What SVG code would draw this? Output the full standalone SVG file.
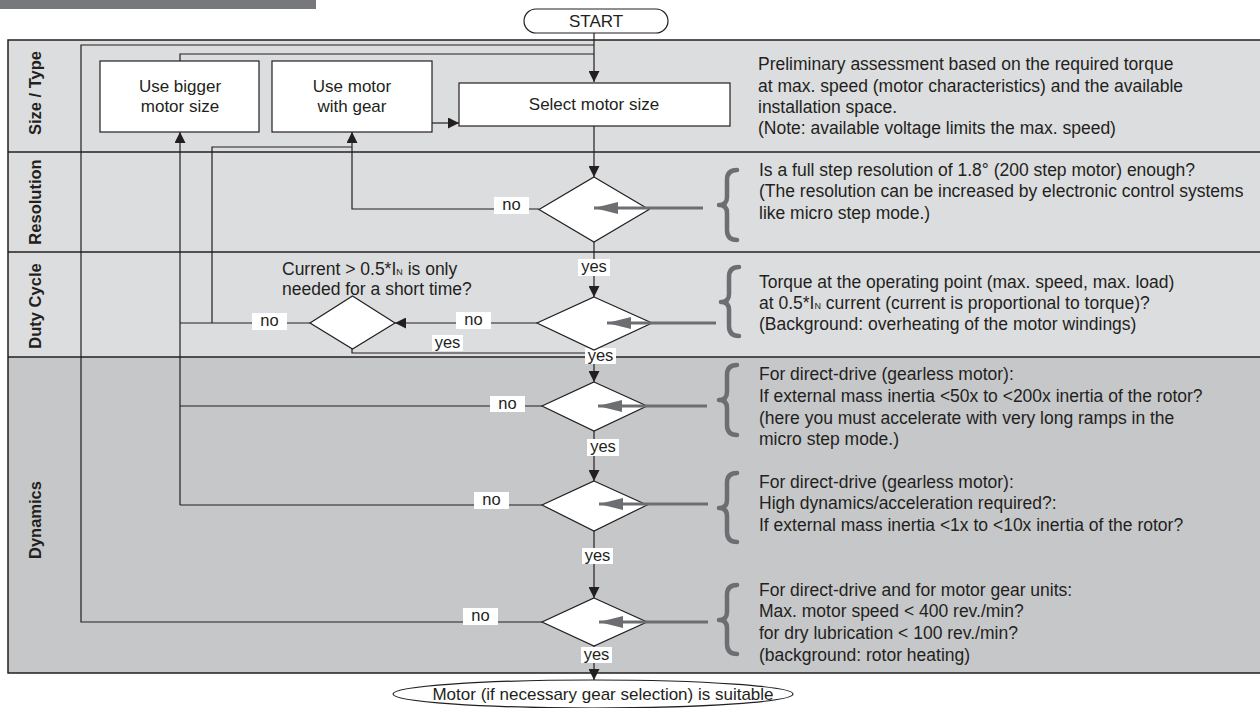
<svg xmlns="http://www.w3.org/2000/svg" width="1260" height="708" viewBox="0 0 1260 708">
<style>
text{font-family:"Liberation Sans",Arial,sans-serif;fill:#231f20}
.box{fill:#fff;stroke:#231f20;stroke-width:1.2}
.dia{fill:#fff;stroke:#231f20;stroke-width:1.2}
.bt{font-size:17px;text-anchor:middle}
.desc{font-size:17.5px}
.row{font-size:16.5px;font-weight:bold;text-anchor:middle}
.ln{fill:none;stroke:#231f20;stroke-width:1.2}
.ga{fill:none;stroke:#6d6e71;stroke-width:3}
.br{fill:none;stroke:#6d6e71;stroke-width:4.5;stroke-linecap:round;stroke-linejoin:round}
.lb{fill:#fff}
.lt{font-size:16.5px;text-anchor:middle}
.div{stroke:#231f20;stroke-width:1.5}
</style>
<defs>
<marker id="ah" viewBox="0 0 10 10" markerWidth="11" markerHeight="11" refX="10" refY="5" orient="auto" markerUnits="userSpaceOnUse"><path d="M0,0L10,5L0,10z" fill="#231f20"/></marker>
<marker id="gh" viewBox="0 0 24 12" markerWidth="24" markerHeight="12" refX="24" refY="6" orient="auto" markerUnits="userSpaceOnUse"><path d="M0,0L24,6L0,12z" fill="#6d6e71"/></marker>
</defs>

<g id="background">
<rect x="0" y="0" width="316" height="9" fill="#77787b"/>
<rect x="8" y="40" width="1260" height="112" fill="#dcdddf"/>
<rect x="8" y="152" width="1260" height="100" fill="#dcdddf"/>
<rect x="8" y="252" width="1260" height="105" fill="#dcdddf"/>
<rect x="8" y="357" width="1260" height="316" fill="#c6c7c9"/>
<rect x="8" y="40" width="1260" height="633" fill="none" stroke="#231f20" stroke-width="1.5"/>
<line class="div" x1="8" y1="152" x2="1260" y2="152"/>
<line class="div" x1="8" y1="252" x2="1260" y2="252"/>
<line class="div" x1="8" y1="357" x2="1260" y2="357"/>
<text class="row" transform="translate(41,93) rotate(-90)">Size / Type</text>
<text class="row" transform="translate(41,202) rotate(-90)">Resolution</text>
<text class="row" transform="translate(41,306) rotate(-90)">Duty Cycle</text>
<text class="row" transform="translate(41,520) rotate(-90)">Dynamics</text>
</g>

<g id="connectors">
<path class="ln" d="M594,33V82" marker-end="url(#ah)"/>
<path class="ln" d="M542,622H81V45H594"/>
<path class="ln" d="M180,61V54H594"/>
<path class="ln" d="M432,123H459" marker-end="url(#ah)"/>
<path class="ln" d="M594,126V177" marker-end="url(#ah)"/>
<path class="ln" d="M539,209H352V132" marker-end="url(#ah)"/>
<path class="ln" d="M594,242V297" marker-end="url(#ah)"/>
<path class="ln" d="M537,323H395" marker-end="url(#ah)"/>
<path class="ln" d="M310,323H180"/>
<path class="ln" d="M212,323V147H352"/>
<path class="ln" d="M352,349V353H594"/>
<path class="ln" d="M594,350V382" marker-end="url(#ah)"/>
<path class="ln" d="M542,406H180"/>
<path class="ln" d="M542,505H180"/>
<path class="ln" d="M180,505V132" marker-end="url(#ah)"/>
<path class="ln" d="M594,431V481" marker-end="url(#ah)"/>
<path class="ln" d="M594,531V598" marker-end="url(#ah)"/>
<path class="ln" d="M594,646V680" marker-end="url(#ah)"/>
<g id="labels">
<rect class="lb" x="494" y="197" width="35" height="17"/><text class="lt" x="511.5" y="210">no</text>
<rect class="lb" x="578" y="259" width="32" height="17"/><text class="lt" x="594" y="272">yes</text>
<rect class="lb" x="456" y="312" width="35" height="17"/><text class="lt" x="473.5" y="325">no</text>
<rect class="lb" x="252" y="313" width="35" height="17"/><text class="lt" x="269.5" y="326">no</text>
<rect class="lb" x="432" y="335" width="31" height="16"/><text class="lt" x="447.5" y="348">yes</text>
<rect class="lb" x="585" y="348" width="31" height="16"/><text class="lt" x="600.5" y="361">yes</text>
<rect class="lb" x="490" y="396" width="35" height="16"/><text class="lt" x="507.5" y="409">no</text>
<rect class="lb" x="587" y="439" width="32" height="17"/><text class="lt" x="603" y="452">yes</text>
<rect class="lb" x="474" y="492" width="35" height="17"/><text class="lt" x="491.5" y="505">no</text>
<rect class="lb" x="582" y="548" width="31" height="16"/><text class="lt" x="597.5" y="561">yes</text>
<rect class="lb" x="463" y="608" width="35" height="17"/><text class="lt" x="480.5" y="621">no</text>
<rect class="lb" x="581" y="647" width="31" height="16"/><text class="lt" x="596.5" y="660">yes</text>
</g>
</g>

<g id="start"><rect class="box" x="524" y="9" width="144" height="24" rx="12"/><text class="bt" x="596" y="27">START</text></g>
<g id="bigger"><rect class="box" x="100" y="61" width="159" height="71"/><text class="bt" x="180" y="92">Use bigger</text><text class="bt" x="180" y="112">motor size</text></g>
<g id="gear"><rect class="box" x="272" y="61" width="160" height="71"/><text class="bt" x="352" y="92">Use motor</text><text class="bt" x="352" y="112">with gear</text></g>
<g id="select"><rect class="box" x="459" y="83" width="271" height="43"/><text class="bt" x="594" y="110">Select motor size</text></g>
<g id="d1"><polygon class="dia" points="594,177 649,209.5 594,242 539,209.5"/></g>
<g id="d2"><polygon class="dia" points="594,297 652,323 594,350 537,323"/></g>
<g id="d2b"><polygon class="dia" points="352.5,296 395,323 352.5,349 310,323"/>
<text class="desc" x="282" y="275">Current &gt; 0.5*I<tspan font-size="9">N</tspan> is only</text><text class="desc" x="282" y="295">needed for a short time?</text></g>
<g id="d3"><polygon class="dia" points="594,382 647,406 594,431 542,406"/></g>
<g id="d4"><polygon class="dia" points="594,481 647,505 594,531 542,505"/></g>
<g id="d5"><polygon class="dia" points="594,598 647,622 594,646 542,622"/></g>
<g id="end"><ellipse class="box" cx="593" cy="694" rx="200" ry="14"/><text class="bt" x="603" y="700" font-size="18">Motor (if necessary gear selection) is suitable</text></g>

<g id="hints">
<path class="ga" d="M703,208H594" marker-end="url(#gh)"/>
<path class="ga" d="M716,323H607" marker-end="url(#gh)"/>
<path class="ga" d="M707,406H598" marker-end="url(#gh)"/>
<path class="ga" d="M708,504H599" marker-end="url(#gh)"/>
<path class="ga" d="M708,622H599" marker-end="url(#gh)"/>
<path class="br" d="M737,170Q727,170 727,180V197Q727,205 719,205Q727,205 727,213V230Q727,240 737,240"/>
<path class="br" d="M739,267Q729,267 729,277V294Q729,302 721,302Q729,302 729,310V326Q729,336 739,336"/>
<path class="br" d="M737,365Q727,365 727,375V392Q727,400 719,400Q727,400 727,408V425Q727,435 737,435"/>
<path class="br" d="M737,473Q727,473 727,483V500Q727,508 719,508Q727,508 727,516V532Q727,542 737,542"/>
<path class="br" d="M737,585Q727,585 727,595V612Q727,620 719,620Q727,620 727,628V644Q727,654 737,654"/>
<text class="desc" x="758" y="70">Preliminary assessment based on the required torque</text>
<text class="desc" x="758" y="92">at max. speed (motor characteristics) and the available</text>
<text class="desc" x="758" y="113">installation space.</text>
<text class="desc" x="758" y="134">(Note: available voltage limits the max. speed)</text>
<text class="desc" x="759" y="176">Is a full step resolution of 1.8° (200 step motor) enough?</text>
<text class="desc" x="759" y="197">(The resolution can be increased by electronic control systems</text>
<text class="desc" x="759" y="219">like micro step mode.)</text>
<text class="desc" x="759" y="288">Torque at the operating point (max. speed, max. load)</text>
<text class="desc" x="759" y="309">at 0.5*I<tspan font-size="9">N</tspan> current (current is proportional to torque)?</text>
<text class="desc" x="759" y="330">(Background: overheating of the motor windings)</text>
<text class="desc" x="759" y="380">For direct-drive (gearless motor):</text>
<text class="desc" x="759" y="402">If external mass inertia &lt;50x to &lt;200x inertia of the rotor?</text>
<text class="desc" x="759" y="424">(here you must accelerate with very long ramps in the</text>
<text class="desc" x="759" y="445">micro step mode.)</text>
<text class="desc" x="759" y="488">For direct-drive (gearless motor):</text>
<text class="desc" x="759" y="509">High dynamics/acceleration required?:</text>
<text class="desc" x="759" y="531">If external mass inertia &lt;1x to &lt;10x inertia of the rotor?</text>
<text class="desc" x="759" y="596">For direct-drive and for motor gear units:</text>
<text class="desc" x="759" y="617">Max. motor speed &lt; 400 rev./min?</text>
<text class="desc" x="759" y="639">for dry lubrication &lt; 100 rev./min?</text>
<text class="desc" x="759" y="661">(background: rotor heating)</text>
</g>
</svg>
